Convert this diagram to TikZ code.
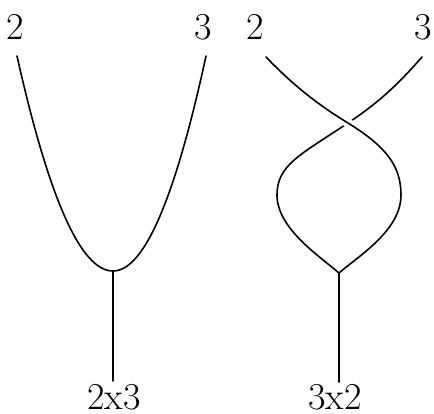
\documentclass[tikz,border=0pt]{standalone}
\usepackage{fontspec}
\begin{document}
\begin{tikzpicture}[x=1pt,y=-1pt,
  strand/.style={line width=1.6pt,line cap=round},
  lbl/.style={inner sep=0pt,anchor=base,font=\fontsize{38}{45}\selectfont}]
\useasboundingbox (0,0) rectangle (434,414);
% labels
\node[lbl] (l2) at (15,40) {2};
\node[lbl] (l3) at (203,40) {3};
\node[lbl] (r2) at (255,40) {2};
\node[lbl] (r3) at (423,40) {3};
\node[lbl] (lp) at (114,409) {2x3};
\node[lbl] (rp) at (335,409) {3x2};
% left diagram
\coordinate (la) at (17,56);
\coordinate (lb) at (206,56);
\coordinate (lj) at (113,271);
\coordinate (le) at (113,381);
\draw[strand] (la) .. controls (49,199) and (81,271) .. (lj)
  .. controls (144,271) and (175,199) .. (lb);
\draw[strand] (lj) -- (le);
% right diagram
\coordinate (ra) at (266,57);
\coordinate (rb) at (422,57);
\coordinate (rx) at (348,123);
\coordinate (rj) at (339,273);
\coordinate (re) at (339,382);
\coordinate (rl) at (277,195);
\coordinate (rr) at (401,195);
\draw[strand] (rb) .. controls (395,88) and (375,105) .. (rx)
  .. controls (300,155) and (277,165) .. (rl)
  .. controls (277,228) and (318,255) .. (rj);
\draw[strand,preaction={draw,white,line width=9pt}] (ra) .. controls (290,82) and (315,103) .. (rx)
  .. controls (385,146) and (401,165) .. (rr);
\draw[strand] (rr) .. controls (401,230) and (360,255) .. (rj);
\draw[strand] (rj) -- (re);
\end{tikzpicture}
\end{document}
